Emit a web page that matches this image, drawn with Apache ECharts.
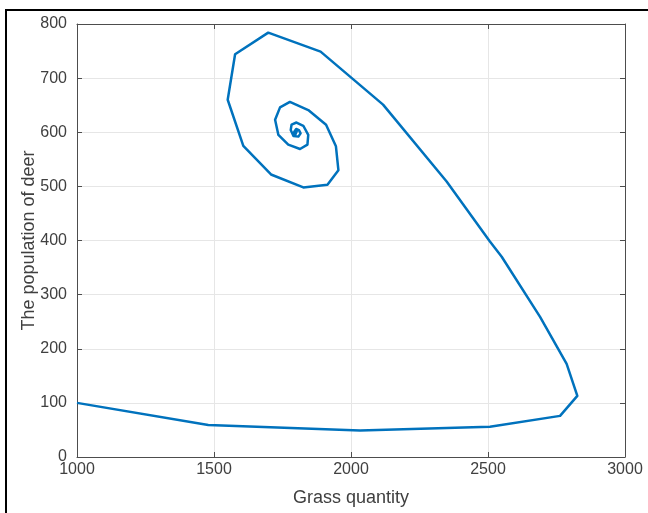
<!DOCTYPE html>
<html>
<head>
<meta charset="utf-8">
<script src="https://cdn.jsdelivr.net/npm/echarts@6/dist/echarts.min.js"></script>
<style>
html,body{margin:0;padding:0;background:#fff;}
#chart{width:648px;height:513px;}
</style>
</head>
<body>
<div id="chart"></div>
<script>
// Data
const grassValues = [1000,1479,2033,2507,2763,2826,2787,2690,2550,2507,2349,2117,1889,1698,1577,1550,1607,1708,1826,1914,1954,1945,1909,1844,1777,1741,1723,1735,1771,1814,1841,1844,1826,1801,1783,1780,1790,1808,1816,1810,1800,1793,1797,1804,1802,1799,1800];
const deerValues  = [100,59,49,56,76,113,172,259,370,398,509,651,749,784,744,660,575,522,498,503,530,574,614,641,656,646,623,595,577,569,577,595,612,618,614,604,593,592,598,604,606,601,596,598,602,600,600];
const xTicks = {min:1000, max:3000, interval:500};
const yTicks = {min:0, max:800, interval:100};
const xTitle = 'Grass quantity';
const yTitle = 'The population of deer';

const points = grassValues.map((g,i)=>[g, deerValues[i]]);
const font = 'Liberation Sans, Arial, sans-serif';
const axisColor = '#4d4d4d';
const labelColor = '#404040';

const chart = echarts.init(document.getElementById('chart'), null, {renderer:'canvas'});
chart.setOption({
  animation:false,
  backgroundColor:'#fff',
  grid:{left:77, top:24, width:548, height:433, containLabel:false},
  graphic:[{type:'rect', shape:{x:6,y:10,width:700,height:600}, style:{fill:'none', stroke:'#000', lineWidth:2}, silent:true, z:100}],
  xAxis:[{
    type:'value', min:xTicks.min, max:xTicks.max, interval:xTicks.interval,
    name:xTitle, nameLocation:'middle', nameGap:32, nameMoveOverlap:false,
    nameTextStyle:{fontFamily:font, fontSize:18, color:labelColor},
    axisLine:{show:true, onZero:false, lineStyle:{color:axisColor, width:1}},
    axisTick:{show:true, inside:true, length:5, lineStyle:{color:axisColor}},
    axisLabel:{fontFamily:font, fontSize:16, color:labelColor, margin:5, formatter:v=>String(v)},
    splitLine:{show:true, lineStyle:{color:'#e6e6e6', width:1}}
  },{
    type:'value', position:'top', min:xTicks.min, max:xTicks.max, interval:xTicks.interval,
    axisLine:{show:true, onZero:false, lineStyle:{color:axisColor, width:1}},
    axisTick:{show:true, inside:true, length:5, lineStyle:{color:axisColor}},
    axisLabel:{show:false}, splitLine:{show:false}
  }],
  yAxis:[{
    type:'value', min:yTicks.min, max:yTicks.max, interval:yTicks.interval,
    name:yTitle, nameLocation:'middle', nameGap:39, nameMoveOverlap:false,
    nameTextStyle:{fontFamily:font, fontSize:18, color:labelColor},
    axisLine:{show:true, onZero:false, lineStyle:{color:axisColor, width:1}},
    axisTick:{show:true, inside:true, length:5, lineStyle:{color:axisColor}},
    axisLabel:{fontFamily:font, fontSize:16, color:labelColor, margin:10, formatter:v=>String(v)},
    splitLine:{show:true, lineStyle:{color:'#e6e6e6', width:1}}
  },{
    type:'value', position:'right', min:yTicks.min, max:yTicks.max, interval:yTicks.interval,
    axisLine:{show:true, onZero:false, lineStyle:{color:axisColor, width:1}},
    axisTick:{show:true, inside:true, length:5, lineStyle:{color:axisColor}},
    axisLabel:{show:false}, splitLine:{show:false}
  }],
  series:[{
    type:'line', data:points, showSymbol:false, smooth:false,
    lineStyle:{color:'#0072BD', width:2.5, join:'round'},
    z:5
  }]
});
</script>
</body>
</html>
